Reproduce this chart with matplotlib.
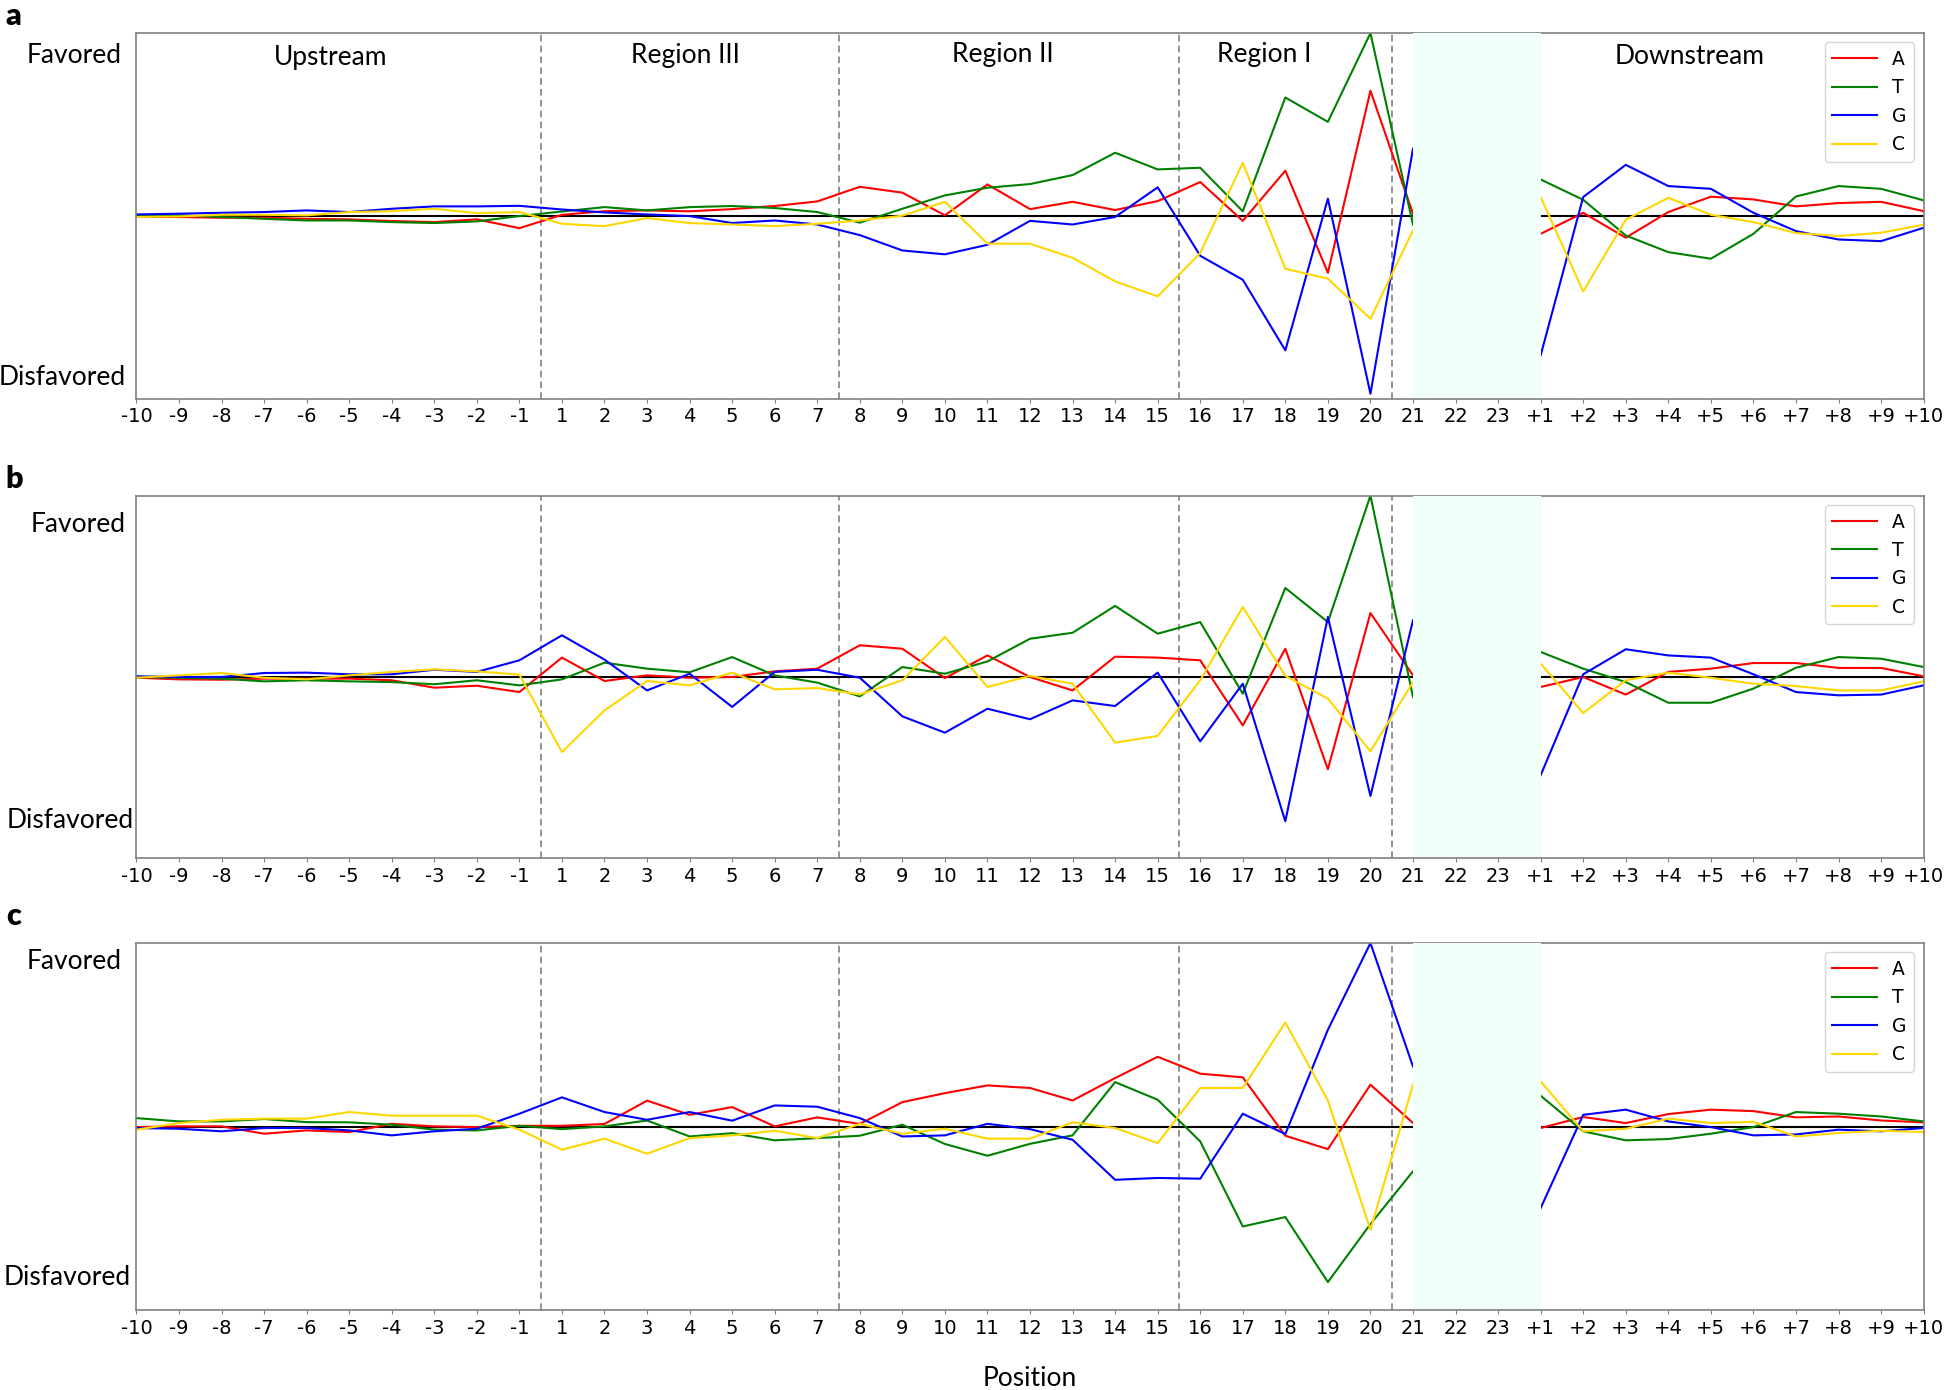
import matplotlib
matplotlib.use("Agg")
import matplotlib.pyplot as plt
import numpy as np

nan = np.nan

# position labels: upstream -10..-1, protospacer 1..23, downstream +1..+10
positions = ([str(i) for i in range(-10, 0)] + [str(i) for i in range(1, 24)]
             + ["+" + str(i) for i in range(1, 11)])

# panel a
a_A = [-0.005, -0.005, -0.009, -0.009, -0.015, -0.018, -0.027, -0.033, -0.018, -0.066,
       0.007, 0.027, 0.031, 0.026, 0.038, 0.055, 0.08, 0.16, 0.128, 0.004, 0.173, 0.038,
       0.078, 0.033, 0.082, 0.186, -0.026, 0.248, -0.31, 0.685, 0.013, nan, nan,
       -0.097, 0.018, -0.118, 0.022, 0.106, 0.091, 0.053, 0.071, 0.078, 0.027]
a_T = [0.004, 0.004, -0.005, -0.015, -0.024, -0.024, -0.033, -0.038, -0.029, 0.0,
       0.025, 0.049, 0.031, 0.049, 0.055, 0.044, 0.022, -0.036, 0.04, 0.113, 0.155, 0.175,
       0.224, 0.346, 0.255, 0.264, 0.026, 0.648, 0.515, 1.0, -0.046, nan, nan,
       0.2, 0.089, -0.106, -0.197, -0.233, -0.097, 0.107, 0.164, 0.149, 0.086]
a_G = [0.009, 0.013, 0.018, 0.022, 0.031, 0.022, 0.04, 0.053, 0.053, 0.056,
       0.036, 0.02, 0.009, 0.0, -0.038, -0.024, -0.046, -0.104, -0.188, -0.209, -0.157, -0.026,
       -0.046, -0.005, 0.157, -0.217, -0.348, -0.734, 0.095, -0.971, 0.368, nan, nan,
       -0.761, 0.104, 0.28, 0.164, 0.149, 0.018, -0.082, -0.128, -0.137, -0.064]
a_C = [-0.005, -0.002, 0.007, 0.007, 0.004, 0.022, 0.027, 0.04, 0.016, 0.022,
       -0.042, -0.055, -0.011, -0.038, -0.046, -0.055, -0.042, -0.024, 0.002, 0.078, -0.151, -0.151,
       -0.228, -0.357, -0.439, -0.202, 0.291, -0.288, -0.342, -0.561, -0.078, nan, nan,
       0.104, -0.412, -0.02, 0.1, 0.007, -0.033, -0.093, -0.109, -0.091, -0.047]

# panel b
b_A = [-0.004, -0.013, -0.015, -0.009, -0.009, -0.009, -0.018, -0.059, -0.048, -0.083,
       0.107, -0.022, 0.009, -0.004, 0.0, 0.031, 0.046, 0.175, 0.156, -0.006, 0.119, 0.0,
       -0.074, 0.112, 0.107, 0.092, -0.267, 0.156, -0.509, 0.353, 0.009, nan, nan,
       -0.055, 0.0, -0.097, 0.028, 0.046, 0.077, 0.077, 0.05, 0.05, 0.004]
b_T = [0.0, -0.004, -0.009, -0.024, -0.018, -0.024, -0.028, -0.04, -0.018, -0.046,
       -0.013, 0.079, 0.046, 0.026, 0.11, 0.009, -0.031, -0.107, 0.055, 0.018, 0.086, 0.211,
       0.244, 0.392, 0.239, 0.303, -0.092, 0.491, 0.303, 1.0, -0.11, nan, nan,
       0.138, 0.046, -0.028, -0.142, -0.142, -0.064, 0.051, 0.11, 0.101, 0.055]
b_G = [0.004, 0.0, 0.0, 0.022, 0.024, 0.015, 0.015, 0.04, 0.028, 0.092,
       0.23, 0.096, -0.074, 0.018, -0.165, 0.028, 0.04, -0.004, -0.217, -0.307, -0.175, -0.233,
       -0.129, -0.16, 0.024, -0.355, -0.037, -0.796, 0.331, -0.656, 0.3125, nan, nan,
       -0.542, 0.015, 0.153, 0.119, 0.107, 0.015, -0.083, -0.101, -0.097, -0.046]
b_C = [-0.004, 0.009, 0.022, -0.004, -0.013, 0.009, 0.028, 0.042, 0.031, 0.013,
       -0.414, -0.184, -0.022, -0.046, 0.024, -0.068, -0.061, -0.096, -0.018, 0.221, -0.055, 0.006,
       -0.037, -0.362, -0.325, -0.018, 0.386, 0.006, -0.119, -0.41, -0.028, nan, nan,
       0.074, -0.199, -0.018, 0.024, -0.004, -0.037, -0.05, -0.074, -0.074, -0.024]

# panel c
c_A = [-0.002, 0.002, 0.002, -0.038, -0.02, -0.029, 0.016, 0.002, -0.002, 0.005,
       0.005, 0.015, 0.142, 0.065, 0.107, 0.002, 0.051, 0.015, 0.134, 0.183, 0.225, 0.211,
       0.143, 0.265, 0.381, 0.289, 0.269, -0.049, -0.122, 0.229, 0.02, nan, nan,
       -0.007, 0.053, 0.02, 0.069, 0.093, 0.085, 0.051, 0.056, 0.034, 0.024]
c_T = [0.047, 0.029, 0.029, 0.042, 0.025, 0.024, 0.011, -0.016, -0.02, 0.005,
       -0.013, 0.002, 0.034, -0.053, -0.035, -0.074, -0.062, -0.049, 0.011, -0.094, -0.158, -0.093,
       -0.047, 0.243, 0.147, -0.08, -0.543, -0.492, -0.846, -0.53, -0.243, nan, nan,
       0.169, -0.025, -0.074, -0.067, -0.038, -0.002, 0.08, 0.071, 0.056, 0.029]
c_G = [-0.007, -0.011, -0.025, -0.007, -0.007, -0.02, -0.047, -0.025, -0.011, 0.071,
       0.16, 0.08, 0.038, 0.08, 0.033, 0.116, 0.109, 0.047, -0.053, -0.047, 0.016, -0.013,
       -0.071, -0.289, -0.279, -0.283, 0.071, -0.04, 0.528, 1.0, 0.328, nan, nan,
       -0.443, 0.065, 0.093, 0.029, -0.002, -0.047, -0.042, -0.016, -0.025, -0.007]
c_C = [-0.016, 0.02, 0.038, 0.044, 0.044, 0.08, 0.06, 0.06, 0.06, -0.016,
       -0.125, -0.065, -0.147, -0.062, -0.047, -0.022, -0.062, 0.015, -0.038, -0.011, -0.065, -0.065,
       0.024, -0.007, -0.089, 0.211, 0.211, 0.568, 0.143, -0.561, 0.229, nan, nan,
       0.247, -0.025, -0.011, 0.044, 0.02, 0.027, -0.053, -0.034, -0.022, -0.029]

bases = ["A", "T", "G", "C"]
base_colors = ["red", "green", "blue", "gold"]
panels = [("a", [a_A, a_T, a_G, a_C]),
          ("b", [b_A, b_T, b_G, b_C]),
          ("c", [c_A, c_T, c_G, c_C])]

regions = ["Upstream", "Region III", "Region II", "Region I", "Downstream"]
region_x = [4.57, 12.9, 20.37, 26.5, 36.5]
region_y = [0.825, 0.838, 0.843, 0.843, 0.829]

boundaries = [9.5, 16.5, 24.5, 29.5]   # between -1|1, 7|8, 15|16, 20|21
gap = (30, 33)                          # 21 .. +1 shaded

LATO = ["Lato", "DejaVu Sans"]

fig = plt.figure(figsize=(19.46, 13.90), dpi=100)
ax_rects = [
    [0.0701, 0.7129, 0.9184, 0.2633],
    [0.0701, 0.3825, 0.9184, 0.2609],
    [0.0701, 0.0573, 0.9184, 0.2642],
]
fav_pos = [(0.875, -0.88), (0.843, -0.79), (0.90, -0.82)]
fav_x = [(-0.0085, -0.006), (-0.006, -0.0015), (-0.0085, -0.003)]
label_y = [25, 488, 925]

x = np.arange(len(positions))
for k, (tag, series) in enumerate(panels):
    ax = fig.add_axes(ax_rects[k])
    ax.axhline(0, color="black", lw=1.5, zorder=1.5)
    for vals, name, col in zip(series, bases, base_colors):
        ax.plot(x, vals, color=col, lw=1.5, label=name)
    for b in boundaries:
        ax.axvline(b, color="grey", lw=1.2, ls=(0, (4, 2.5)), zorder=1.2)
    ax.axvspan(gap[0], gap[1], ymin=0.004, ymax=1.0, color="#f0fff8", lw=0, zorder=3)

    ax.set_xlim(0, len(positions) - 1)
    ax.set_ylim(-1, 1)
    ax.set_xticks(x)
    ax.set_xticklabels(positions, fontsize=14)
    ax.tick_params(axis="x", length=3, width=0.8, color="grey", pad=3)
    ax.set_yticks([])
    for s in ax.spines.values():
        s.set_color("grey")
        s.set_linewidth(1.2)

    yt = ax.get_yaxis_transform()
    ax.text(fav_x[k][0], fav_pos[k][0], "Favored", transform=yt, ha="right",
            va="center", fontsize=19, family=LATO)
    ax.text(fav_x[k][1], fav_pos[k][1], "Disfavored", transform=yt, ha="right",
            va="center", fontsize=19, family=LATO)

    ax.legend(loc="upper right", fontsize=13.5, handlelength=2.4,
              borderaxespad=0.5, framealpha=0.8)

    fig.text(0.003, 1 - label_y[k] / 1390, tag, fontsize=22, fontweight="heavy",
             family=LATO, ha="left", va="baseline")

    if k == 0:
        for name, rx, ry in zip(regions, region_x, region_y):
            ax.text(rx, ry, name, ha="center", va="baseline", fontsize=19,
                    family=LATO, zorder=4)

fig.text(1030 / 1946, 12 / 1390, "Position", ha="center", va="center",
         fontsize=19, family=LATO)

fig.savefig("out.png", dpi=100)
